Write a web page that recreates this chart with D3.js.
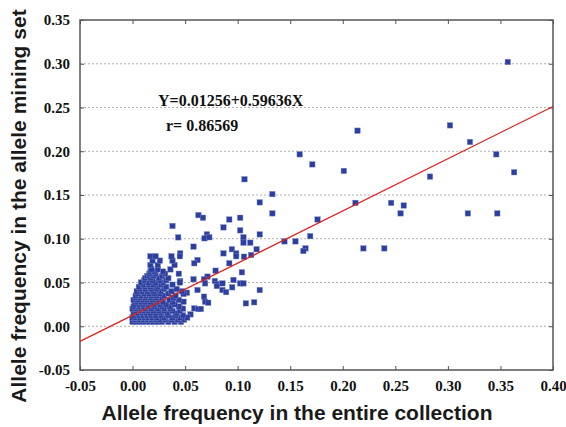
<!DOCTYPE html>
<html>
<head>
<meta charset="utf-8">
<script src="https://cdn.jsdelivr.net/npm/d3@7"></script>
<style>
  body { margin: 0; background: #fff; }
</style>
</head>
<body>
<div id="chart"></div>
<script>
// frequency in the entire collection (x) and in the mining set (y)
var sparseX = [0.357, 0.214, 0.302, 0.321, 0.346, 0.363, 0.171, 0.159, 0.201, 0.283, 0.212, 0.246, 0.258, 0.255, 0.319, 0.347, 0.176, 0.169, 0.133, 0.121, 0.133, 0.121, 0.1445, 0.155, 0.1645, 0.1625, 0.2196, 0.2395, 0.121, 0.1065];
var sparseY = [0.302, 0.2235, 0.2296, 0.2106, 0.1965, 0.176, 0.185, 0.1965, 0.1775, 0.171, 0.141, 0.141, 0.138, 0.129, 0.129, 0.129, 0.122, 0.103, 0.151, 0.1416, 0.129, 0.105, 0.097, 0.097, 0.089, 0.086, 0.089, 0.089, 0.0414, 0.168];

var midX = [0.0627, 0.067, 0.1024, 0.092, 0.0865, 0.1024, 0.0707, 0.0685, 0.073, 0.1055, 0.1055, 0.112, 0.058, 0.0945, 0.0986, 0.0986, 0.0865, 0.106, 0.1128, 0.118, 0.0618, 0.0587, 0.092, 0.0453, 0.079, 0.104, 0.0713, 0.068, 0.058, 0.0783, 0.0453, 0.069, 0.0802, 0.0855, 0.096, 0.1024, 0.1055, 0.0802, 0.0948, 0.0618, 0.0855, 0.089, 0.0517, 0.0485, 0.068, 0.0485, 0.069, 0.072, 0.1078, 0.1157, 0.0587, 0.0627, 0.065, 0.0453, 0.0551, 0.038, 0.0434];
var midY = [0.127, 0.124, 0.124, 0.122, 0.113, 0.1096, 0.105, 0.1005, 0.1017, 0.1017, 0.0955, 0.0955, 0.091, 0.088, 0.0833, 0.080, 0.0833, 0.0795, 0.0814, 0.088, 0.0757, 0.072, 0.072, 0.0833, 0.0635, 0.0617, 0.0567, 0.0537, 0.0537, 0.0517, 0.0517, 0.049, 0.0483, 0.049, 0.0529, 0.049, 0.049, 0.046, 0.0445, 0.0414, 0.0414, 0.039, 0.0383, 0.0369, 0.0338, 0.028, 0.028, 0.0269, 0.0262, 0.0274, 0.0205, 0.0197, 0.0197, 0.0205, 0.0136, 0.1146, 0.1016];

// the dense lump near the origin, row by row
var clusterX = [
  0.000, 0.004, 0.008, 0.012, 0.016, 0.020, 0.024, 0.028, 0.034, 0.040, 0.046,
  0.002, 0.006, 0.010, 0.014, 0.018, 0.022, 0.026, 0.031, 0.037, 0.043, 0.049,
  0.000, 0.003, 0.007, 0.011, 0.015, 0.019, 0.023, 0.030, 0.038, 0.045, 0.052,
  0.002, 0.006, 0.010, 0.014, 0.018, 0.022, 0.027, 0.034, 0.041, 0.048,
  0.001, 0.005, 0.009, 0.013, 0.017, 0.022, 0.027, 0.033, 0.042,
  0.003, 0.007, 0.011, 0.015, 0.020, 0.025, 0.030, 0.038, 0.045,
  0.000, 0.004, 0.008, 0.012, 0.018, 0.024, 0.030, 0.036, 0.048,
  0.001, 0.006, 0.010, 0.014, 0.021, 0.028, 0.035, 0.044,
  0.002, 0.006, 0.010, 0.015, 0.020, 0.026, 0.032, 0.040,
  0.004, 0.008, 0.012, 0.017, 0.023, 0.029, 0.038,
  0.001, 0.005, 0.010, 0.014, 0.019, 0.025, 0.035, 0.044,
  0.003, 0.007, 0.012, 0.017, 0.022, 0.028, 0.039,
  0.003, 0.008, 0.013, 0.018, 0.023, 0.030, 0.041,
  0.005, 0.011, 0.016, 0.021, 0.026, 0.034,
  0.004, 0.009, 0.014, 0.020, 0.027, 0.037, 0.047,
  0.007, 0.012, 0.018, 0.023, 0.030, 0.042,
  0.006, 0.012, 0.017, 0.024, 0.032,
  0.010, 0.016, 0.020, 0.027, 0.038,
  0.008, 0.015, 0.022, 0.029, 0.045,
  0.011, 0.019, 0.026, 0.032,
  0.012, 0.017, 0.025, 0.034,
  0.014, 0.020, 0.028,
  0.016, 0.022, 0.031, 0.044,
  0.017, 0.021, 0.029,
  0.018, 0.024, 0.036,
  0.017, 0.024, 0.040,
  0.019, 0.026, 0.038,
  0.017, 0.022, 0.037, 0.045
];
var clusterY = [
  0.005, 0.005, 0.005, 0.005, 0.005, 0.005, 0.005, 0.005, 0.005, 0.005, 0.005,
  0.0075, 0.0075, 0.0075, 0.0075, 0.0075, 0.0075, 0.0075, 0.0075, 0.0075, 0.0075, 0.0075,
  0.010, 0.010, 0.010, 0.010, 0.010, 0.010, 0.010, 0.010, 0.010, 0.010, 0.010,
  0.0125, 0.0125, 0.0125, 0.0125, 0.0125, 0.0125, 0.0125, 0.0125, 0.0125, 0.0125,
  0.015, 0.015, 0.015, 0.015, 0.015, 0.015, 0.015, 0.015, 0.015,
  0.0175, 0.0175, 0.0175, 0.0175, 0.0175, 0.0175, 0.0175, 0.0175, 0.0175,
  0.020, 0.020, 0.020, 0.020, 0.020, 0.020, 0.020, 0.020, 0.020,
  0.0225, 0.0225, 0.0225, 0.0225, 0.0225, 0.0225, 0.0225, 0.0225,
  0.025, 0.025, 0.025, 0.025, 0.025, 0.025, 0.025, 0.025,
  0.0275, 0.0275, 0.0275, 0.0275, 0.0275, 0.0275, 0.0275,
  0.030, 0.030, 0.030, 0.030, 0.030, 0.030, 0.030, 0.030,
  0.0325, 0.0325, 0.0325, 0.0325, 0.0325, 0.0325, 0.0325,
  0.035, 0.035, 0.035, 0.035, 0.035, 0.035, 0.035,
  0.0375, 0.0375, 0.0375, 0.0375, 0.0375, 0.0375,
  0.040, 0.040, 0.040, 0.040, 0.040, 0.040, 0.040,
  0.0425, 0.0425, 0.0425, 0.0425, 0.0425, 0.0425,
  0.045, 0.045, 0.045, 0.045, 0.045,
  0.0475, 0.0475, 0.0475, 0.0475, 0.0475,
  0.050, 0.050, 0.050, 0.050, 0.050,
  0.0525, 0.0525, 0.0525, 0.0525,
  0.055, 0.055, 0.055, 0.055,
  0.0575, 0.0575, 0.0575,
  0.060, 0.060, 0.060, 0.060,
  0.0625, 0.0625, 0.0625,
  0.065, 0.065, 0.065,
  0.070, 0.070, 0.070,
  0.075, 0.075, 0.075,
  0.080, 0.080, 0.080, 0.080
];

var xTicks = [-0.05, 0.00, 0.05, 0.10, 0.15, 0.20, 0.25, 0.30, 0.35, 0.40];
var yTicks = [-0.05, 0.00, 0.05, 0.10, 0.15, 0.20, 0.25, 0.30, 0.35];

// fitted line Y = a + bX
var intercept = 0.01256;
var slope = 0.59636;
var fitText = "Y=0.01256+0.59636X";
var rText = "r= 0.86569";

function drawChart() {
    var width = 566, height = 427;
    var mLeft = 80, mRight = 553, mTop = 20, mBottom = 370;

    var svg = d3.select("#chart").append("svg")
        .attr("width", width)
        .attr("height", height);

    var x = d3.scaleLinear().domain([-0.05, 0.40]).range([mLeft, mRight]);
    var y = d3.scaleLinear().domain([-0.05, 0.35]).range([mBottom, mTop]);

    // horizontal dotted grid
    svg.selectAll(".grid")
        .data(yTicks.slice(1, -1))
        .enter().append("line")
        .attr("x1", mLeft).attr("x2", mRight)
        .attr("y1", d => y(d)).attr("y2", d => y(d))
        .attr("stroke", "#b0b0b0")
        .attr("stroke-width", 1)
        .attr("stroke-dasharray", "2,2");

    // plain hyphen for negatives, like the original
    var fmt = d => d.toFixed(2);
    var tickFont = "'Liberation Serif', 'Times New Roman', serif";

    function styleAxis(g) {
        g.select(".domain").remove();
        g.selectAll(".tick line").attr("stroke", "#555").attr("stroke-width", 1);
    }

    // bottom axis with labels, ticks pointing inward
    svg.append("g")
        .attr("transform", "translate(0," + mBottom + ")")
        .call(d3.axisBottom(x).tickValues(xTicks).tickFormat(fmt).tickSizeInner(-4).tickSizeOuter(0).tickPadding(10))
        .call(styleAxis)
        .call(g => g.selectAll("text")
            .attr("font-family", tickFont).attr("font-weight", "bold")
            .attr("font-size", 15).attr("fill", "#111"));

    svg.append("g")
        .attr("transform", "translate(0," + mTop + ")")
        .call(d3.axisTop(x).tickValues(xTicks).tickFormat("").tickSizeInner(-4).tickSizeOuter(0))
        .call(styleAxis);

    svg.append("g")
        .attr("transform", "translate(" + mLeft + ",0)")
        .call(d3.axisLeft(y).tickValues(yTicks).tickFormat(fmt).tickSizeInner(-4).tickSizeOuter(0).tickPadding(10))
        .call(styleAxis)
        .call(g => g.selectAll("text")
            .attr("font-family", tickFont).attr("font-weight", "bold")
            .attr("font-size", 15).attr("fill", "#111"));

    svg.append("g")
        .attr("transform", "translate(" + mRight + ",0)")
        .call(d3.axisRight(y).tickValues(yTicks).tickFormat("").tickSizeInner(-4).tickSizeOuter(0))
        .call(styleAxis);

    // frame
    svg.append("rect")
        .attr("x", mLeft).attr("y", mTop)
        .attr("width", mRight - mLeft).attr("height", mBottom - mTop)
        .attr("fill", "none")
        .attr("stroke", "#555")
        .attr("stroke-width", 1.5);

    // points
    var allX = sparseX.concat(midX, clusterX);
    var allY = sparseY.concat(midY, clusterY);
    var pts = allX.map((v, i) => [v, allY[i]]);
    var ms = 5.5;

    svg.append("g").selectAll("rect")
        .data(pts)
        .enter().append("rect")
        .attr("x", d => x(d[0]) - ms / 2)
        .attr("y", d => y(d[1]) - ms / 2)
        .attr("width", ms).attr("height", ms)
        .attr("fill", "#2d3f9e")
        .attr("stroke", "#7f8dc8")
        .attr("stroke-width", 0.4);

    // regression line
    var lineX = [-0.05, 0.40];
    svg.append("line")
        .attr("x1", x(lineX[0])).attr("y1", y(intercept + slope * lineX[0]))
        .attr("x2", x(lineX[1])).attr("y2", y(intercept + slope * lineX[1]))
        .attr("stroke", "#e0201c")
        .attr("stroke-width", 1.2);

    // equation text
    svg.append("text")
        .attr("x", 158).attr("y", 106)
        .attr("font-family", tickFont).attr("font-weight", "bold")
        .attr("font-size", 16).attr("fill", "#111")
        .text(fitText);
    svg.append("text")
        .attr("x", 166).attr("y", 131)
        .attr("font-family", tickFont).attr("font-weight", "bold")
        .attr("font-size", 16).attr("fill", "#111")
        .text(rText);

    // axis titles
    var titleFont = "'Liberation Sans', Arial, sans-serif";
    svg.append("text")
        .attr("x", 297).attr("y", 420)
        .attr("text-anchor", "middle")
        .attr("font-family", titleFont).attr("font-weight", "bold")
        .attr("font-size", 21).attr("fill", "#1a1a1a")
        .text("Allele frequency in the entire collection");

    svg.append("text")
        .attr("transform", "translate(26,206) rotate(-90)")
        .attr("text-anchor", "middle")
        .attr("font-family", titleFont).attr("font-weight", "bold")
        .attr("font-size", 21).attr("fill", "#1a1a1a")
        .text("Allele frequency in the allele mining set");
}

drawChart();
</script>
</body>
</html>
